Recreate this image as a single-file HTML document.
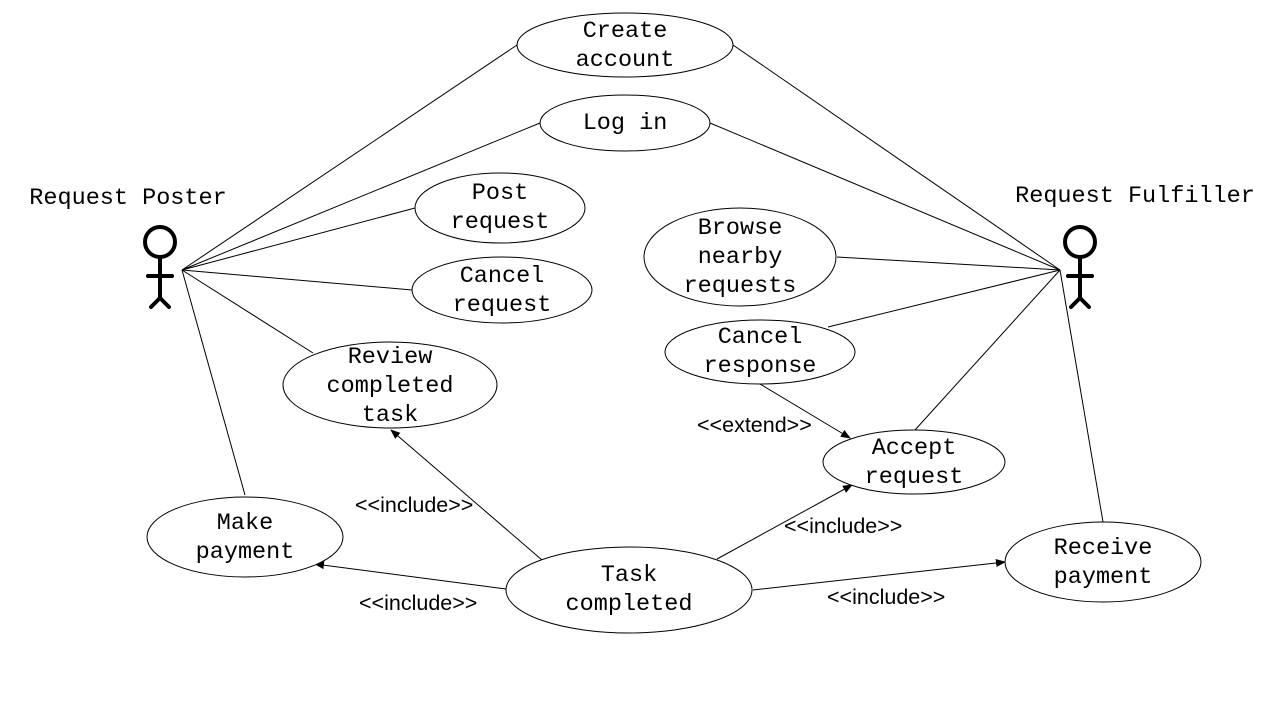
<!DOCTYPE html>
<html><head><style>body{margin:0;background:#fff}svg{display:block}
.m{font-family:"Liberation Mono",monospace;font-size:23.5px;fill:#000;text-anchor:middle}
.s{font-family:"Liberation Sans",sans-serif;font-size:21.5px;fill:#000}
</style></head><body>
<svg width="1280" height="720" viewBox="0 0 1280 720">
<defs><marker id="a" markerWidth="10" markerHeight="8" refX="9" refY="4" orient="auto" markerUnits="userSpaceOnUse"><path d="M0,0 L10,4 L0,8z" fill="#000"/></marker></defs>
<g stroke="#000" stroke-width="1" fill="none">
<line x1="182" y1="270" x2="517" y2="45"/><line x1="182" y1="270" x2="540" y2="123"/>
<line x1="182" y1="270" x2="415" y2="208"/><line x1="182" y1="270" x2="412" y2="290"/>
<line x1="182" y1="270" x2="313" y2="353"/><line x1="182" y1="270" x2="245" y2="495"/>
<line x1="1060" y1="270" x2="733" y2="45"/><line x1="1060" y1="270" x2="710" y2="123"/>
<line x1="1060" y1="270" x2="837" y2="257"/><line x1="1060" y1="270" x2="828" y2="327"/>
<line x1="1060" y1="270" x2="915" y2="430"/><line x1="1060" y1="270" x2="1103" y2="522"/>
<line x1="760" y1="384" x2="850" y2="438" marker-end="url(#a)"/>
<line x1="717" y1="559" x2="852" y2="485" marker-end="url(#a)"/>
<line x1="542" y1="560" x2="391" y2="430" marker-end="url(#a)"/>
<line x1="506" y1="589" x2="315" y2="564" marker-end="url(#a)"/>
<line x1="753" y1="590" x2="1005" y2="562" marker-end="url(#a)"/>
</g>
<g stroke="#000" stroke-width="1" fill="#fff">
<ellipse cx="625" cy="45" rx="108" ry="32"/><ellipse cx="625" cy="123" rx="85" ry="28"/>
<ellipse cx="500" cy="208" rx="85" ry="35"/><ellipse cx="502" cy="290" rx="90" ry="33"/>
<ellipse cx="390" cy="385" rx="107" ry="43"/><ellipse cx="245" cy="537" rx="98" ry="40"/>
<ellipse cx="629" cy="590" rx="123" ry="43"/><ellipse cx="740" cy="257" rx="96" ry="49"/>
<ellipse cx="760" cy="352" rx="95" ry="32"/><ellipse cx="914" cy="462" rx="91" ry="32"/>
<ellipse cx="1103" cy="562" rx="98" ry="40"/>
</g>
<g stroke="#000" stroke-width="4" fill="none" stroke-linecap="round">
<circle cx="160" cy="242" r="15"/><line x1="160" y1="257" x2="160" y2="298"/>
<line x1="148" y1="276" x2="172" y2="276"/><line x1="160" y1="298" x2="151" y2="307"/><line x1="160" y1="298" x2="169" y2="307"/>
<circle cx="1080" cy="242" r="15"/><line x1="1080" y1="257" x2="1080" y2="298"/>
<line x1="1068" y1="276" x2="1092" y2="276"/><line x1="1080" y1="298" x2="1071" y2="307"/><line x1="1080" y1="298" x2="1089" y2="307"/>
</g>
<text class="m" x="128" y="204">Request Poster</text>
<text class="m" x="1135" y="202">Request Fulfiller</text>
<text class="m" x="625" y="37">Create</text><text class="m" x="625" y="66">account</text>
<text class="m" x="625" y="129">Log in</text>
<text class="m" x="500" y="199">Post</text><text class="m" x="500" y="228">request</text>
<text class="m" x="502" y="282">Cancel</text><text class="m" x="502" y="311">request</text>
<text class="m" x="390" y="363">Review</text><text class="m" x="390" y="392">completed</text><text class="m" x="390" y="421">task</text>
<text class="m" x="245" y="529">Make</text><text class="m" x="245" y="558">payment</text>
<text class="m" x="629" y="581">Task</text><text class="m" x="629" y="610">completed</text>
<text class="m" x="740" y="234">Browse</text><text class="m" x="740" y="263">nearby</text><text class="m" x="740" y="292">requests</text>
<text class="m" x="760" y="343">Cancel</text><text class="m" x="760" y="372">response</text>
<text class="m" x="914" y="454">Accept</text><text class="m" x="914" y="483">request</text>
<text class="m" x="1103" y="554">Receive</text><text class="m" x="1103" y="583">payment</text>
<text class="s" x="697" y="432">&lt;&lt;extend&gt;&gt;</text>
<text class="s" x="355" y="512">&lt;&lt;include&gt;&gt;</text>
<text class="s" x="784" y="533">&lt;&lt;include&gt;&gt;</text>
<text class="s" x="359" y="610">&lt;&lt;include&gt;&gt;</text>
<text class="s" x="827" y="604">&lt;&lt;include&gt;&gt;</text>
</svg>
</body></html>
